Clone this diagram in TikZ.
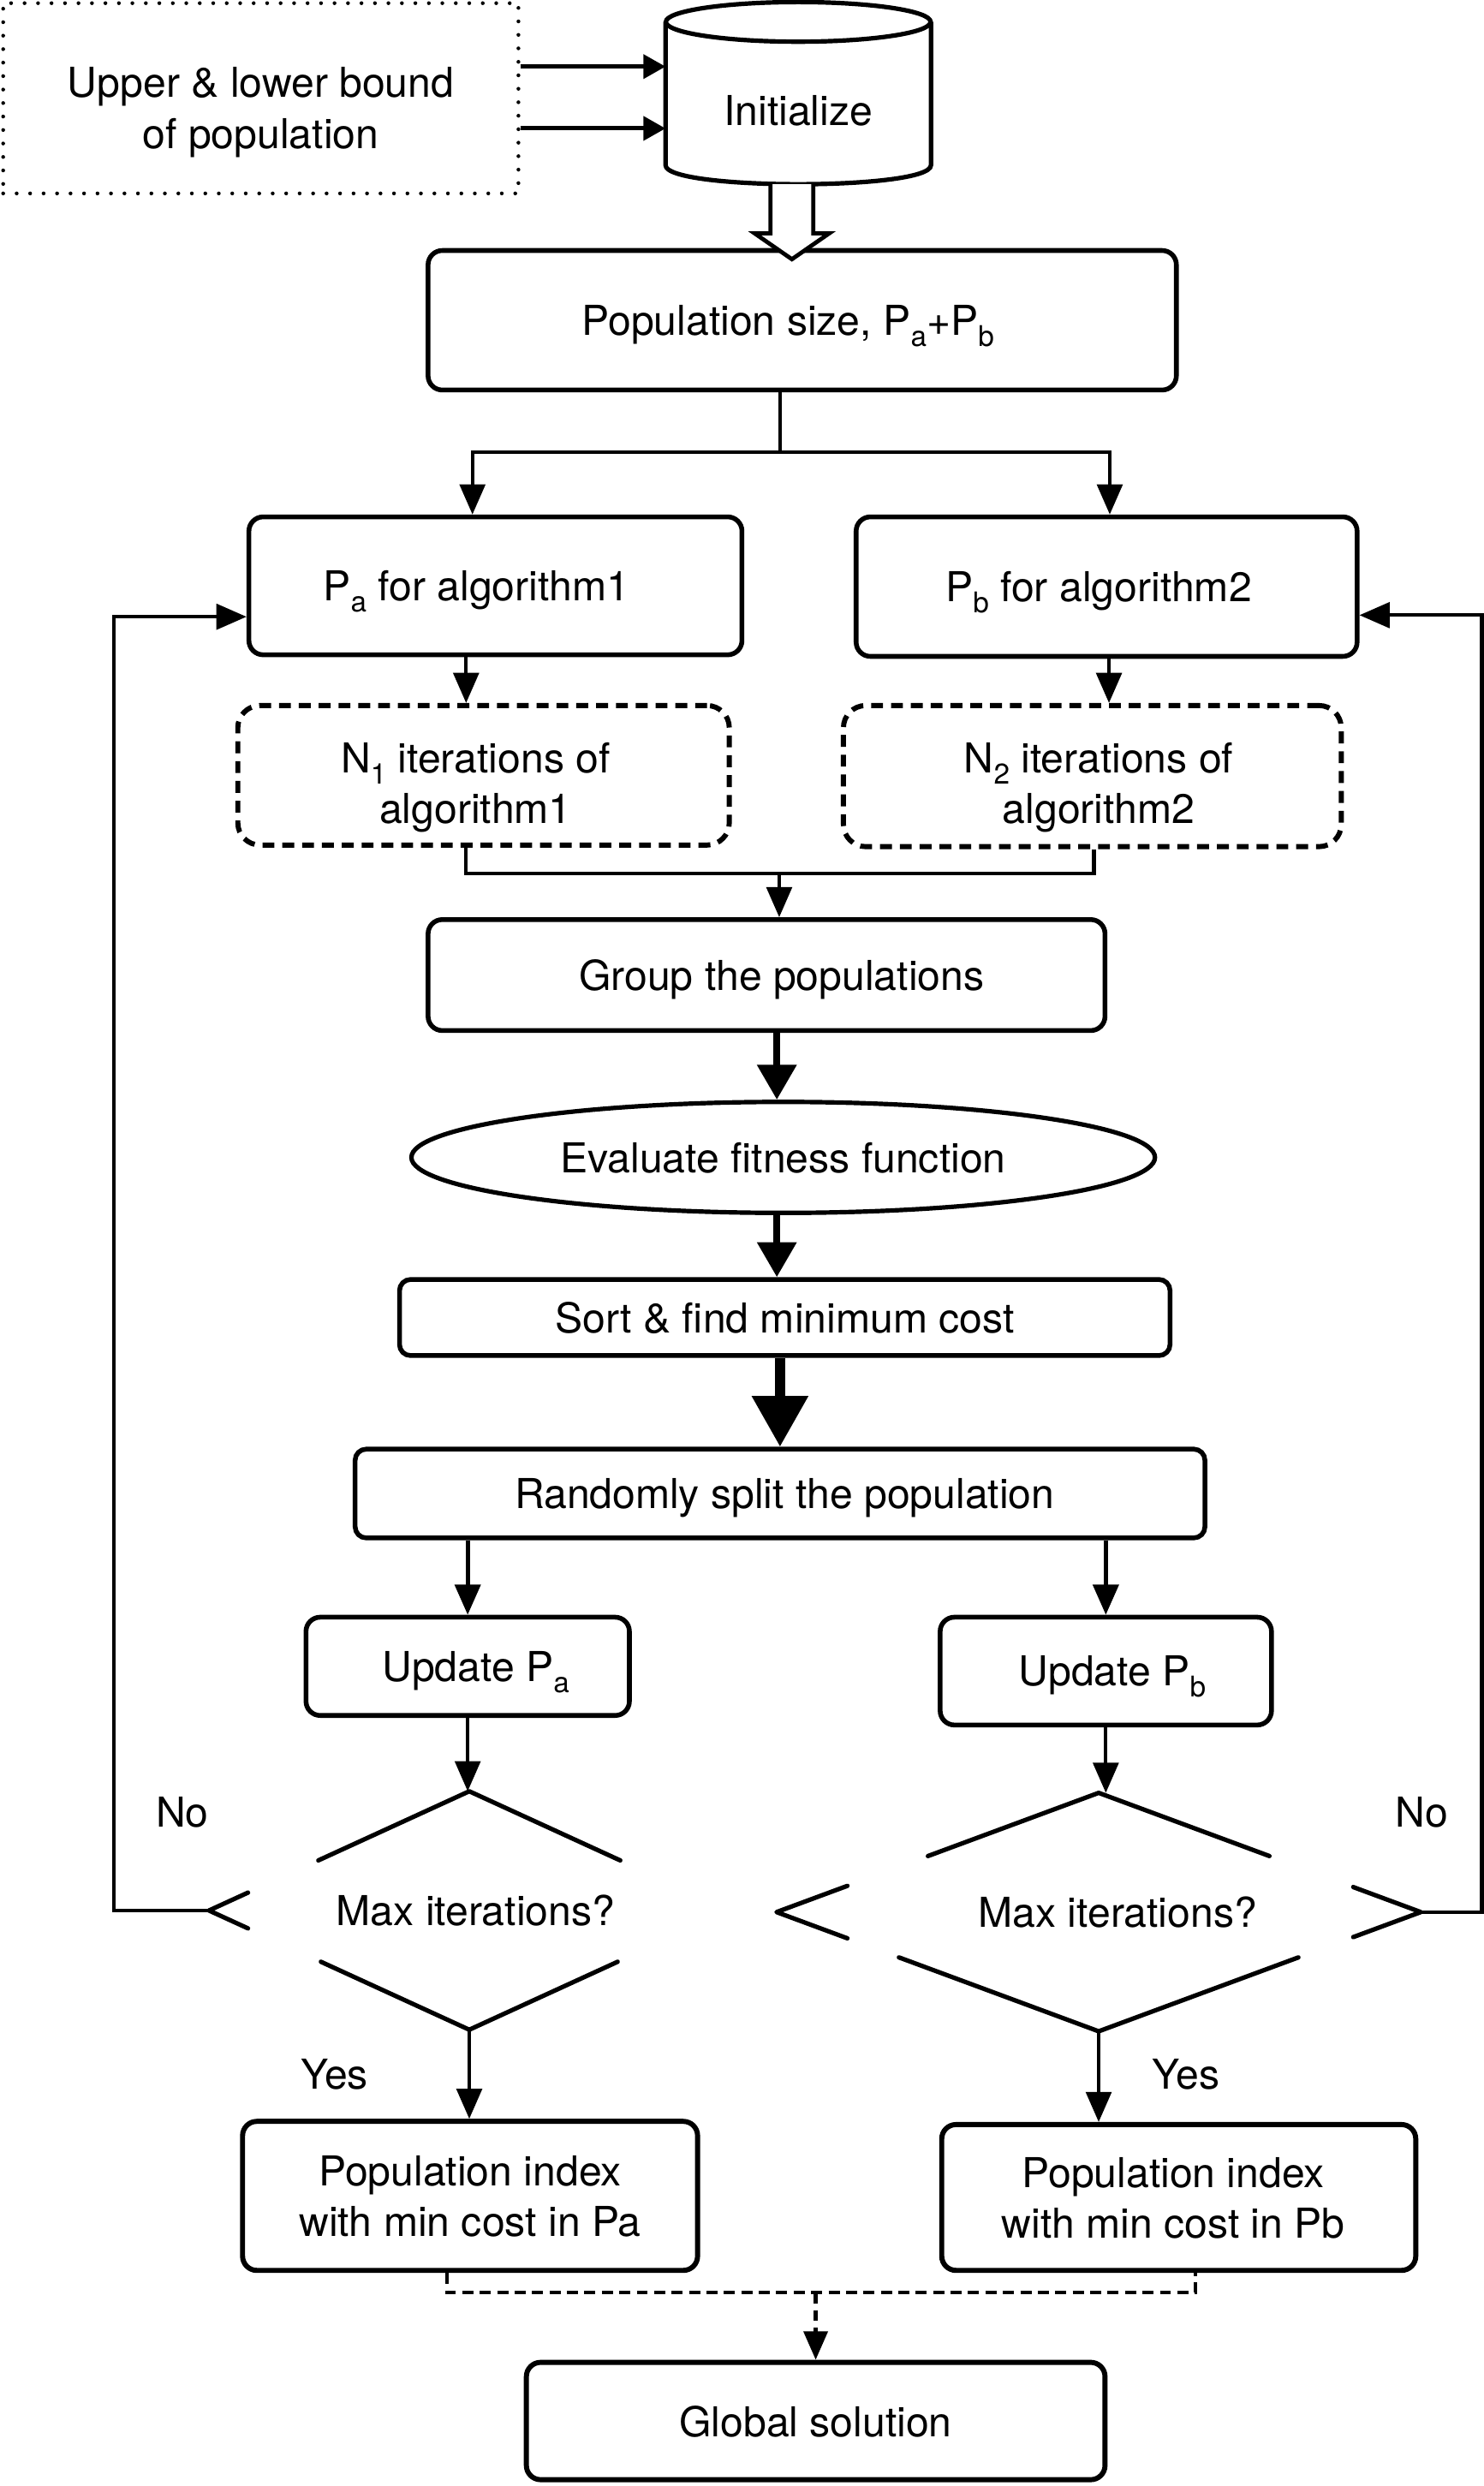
\documentclass[tikz,border=0pt]{standalone}
\usepackage{fontspec}
\setmainfont{TeX Gyre Heros}
\usetikzlibrary{arrows.meta,shapes.geometric,calc}
\newcommand{\subtx}[1]{\raisebox{-7pt}{\fontsize{18}{18}\selectfont #1}}
\begin{document}
\begin{tikzpicture}[x=1pt,y=-1pt,
  every node/.style={font=\fontsize{26}{32}\selectfont, inner sep=0pt, align=center, text depth=0pt},
  box/.style={draw, line width=3pt, rounded corners=9pt},
  dbox/.style={draw, line width=3.2pt, dash pattern=on 7.5pt off 5pt, rounded corners=14pt},
  ln/.style={line width=2.2pt},
  arr/.style={line width=2.2pt, -{Triangle[length=19pt,width=16pt]}},
  arrin/.style={line width=2.7pt, -{Triangle[length=14pt,width=15pt]}},
  medarr/.style={line width=4.5pt, -{Triangle[length=22pt,width=24pt]}},
  bigarr/.style={line width=6.5pt, -{Triangle[length=32pt,width=34pt]}},
  dia/.style={line width=2.8pt, line cap=round, line join=round},
  dline/.style={line width=2.5pt, dash pattern=on 7pt off 4pt}
]
\useasboundingbox (0,0) rectangle (936,1568);

% input box
\node[draw, line width=2.4pt, dash pattern=on 0pt off 8.5pt, line cap=round,
      minimum width=325pt, minimum height=120pt,
      label={[yshift=-6pt]center:{Upper \& lower bound\\of population}}] (bound) at (164.5,62) {};

% cylinder
\node[minimum width=167pt, minimum height=90pt, text height=40.7pt, text depth=0pt] (init) at (503.5,59) {Initialize};
\draw[line width=2.8pt] (init.north west) -- (init.south west)
   .. controls ($(init.south west)+(0,16)$) and ($(init.south east)+(0,16)$) .. (init.south east)
   -- (init.north east);
\draw[line width=2.8pt] (init.north) ellipse [x radius=83.5pt, y radius=12.5pt];

\coordinate (c42) at (0,42);
\coordinate (c81) at (0,81);
\draw[arrin] (bound.east |- c42) -- (init.west |- c42);
\draw[arrin] (bound.east |- c81) -- (init.west |- c81);

% main boxes
\node[box, minimum width=472pt, minimum height=88pt] (pop) at (506,202) {Population size, P\subtx{a}+P\subtx{b}\hspace*{18pt}};
\node[box, minimum width=311pt, minimum height=87pt] (pa) at (312.5,369.5) {P\subtx{a} for algorithm1\hspace*{24pt}};
\node[box, minimum width=316pt, minimum height=88pt] (pb) at (698,370) {P\subtx{b} for algorithm2\hspace*{10pt}};
\node[dbox, minimum width=310pt, minimum height=88pt,
      label={[yshift=-5pt, xshift=-5pt]center:{N\subtx{1} iterations of\\algorithm1}}] (n1) at (305,489) {};
\node[dbox, minimum width=314pt, minimum height=89pt,
      label={[yshift=-4.5pt, xshift=4pt]center:{N\subtx{2} iterations of\\algorithm2}}] (n2) at (689,489.5) {};
\node[box, minimum width=427pt, minimum height=70pt] (group) at (483.5,615) {\hspace*{19pt}Group the populations};
\node[ellipse, draw, line width=2.8pt, minimum width=469pt, minimum height=70pt] (eval) at (494,730) {Evaluate fitness function};
\node[box, rounded corners=7pt, minimum width=486pt, minimum height=48pt] (sort) at (495,831) {Sort \& find minimum cost};
\node[box, rounded corners=7pt, minimum width=536pt, minimum height=56pt] (split) at (492,942) {\hspace*{6pt}Randomly split the population};
\node[box, minimum width=204pt, minimum height=62pt] (upa) at (295,1051) {\hspace*{10pt}Update P\subtx{a}};
\node[box, minimum width=209pt, minimum height=68pt] (upb) at (697.5,1054) {\hspace*{8pt}Update P\subtx{b}};

% decision nodes (broken diamonds)
\node[minimum width=328pt, minimum height=150pt] (d1) at (296,1205) {\hspace*{8pt}Max iterations?};
\node[minimum width=406pt, minimum height=150pt] (d2) at (693,1206) {\hspace*{24pt}Max iterations?};
\draw[dia] ($(d1.north)!0.58!(d1.west)$) -- (d1.north) -- ($(d1.north)!0.58!(d1.east)$);
\draw[dia] ($(d1.west)!0.15!(d1.north)$) -- (d1.west) -- ($(d1.west)!0.15!(d1.south)$);
\draw[dia] ($(d1.south)!0.57!(d1.west)$) -- (d1.south) -- ($(d1.south)!0.57!(d1.east)$);
\draw[dia] ($(d2.north)!0.53!(d2.west)$) -- (d2.north) -- ($(d2.north)!0.53!(d2.east)$);
\draw[dia] ($(d2.west)!0.22!(d2.north)$) -- (d2.west) -- ($(d2.west)!0.22!(d2.south)$);
\draw[dia] ($(d2.east)!0.21!(d2.north)$) -- (d2.east) -- ($(d2.east)!0.21!(d2.south)$);
\draw[dia] ($(d2.south)!0.62!(d2.west)$) -- (d2.south) -- ($(d2.south)!0.62!(d2.east)$);

\node[box, line width=3.2pt, minimum width=287pt, minimum height=94pt] (idxa) at (296.5,1385) {Population index\\with min cost in Pa};
\node[box, line width=3.2pt, minimum width=299pt, minimum height=92pt] (idxb) at (743.5,1386) {Population index\hspace*{7pt}\\with min cost in Pb\hspace*{7pt}};
\node[box, line width=3.2pt, minimum width=365pt, minimum height=74pt] (glob) at (514.5,1527) {Global solution};

\node (no1) at (115,1143) {No};
\node (no2) at (897,1143) {No};
\node (yes1) at (211,1308) {Yes};
\node (yes2) at (748,1308) {Yes};

% hollow arrow from Initialize
\draw[line width=2.6pt, fill=white, line join=miter]
  ($(init.south)+(-17.5,12)$) -- ++(0,31) -- ++(-10,0) -- ($(pop.north)+(-6.5,7)$)
  -- ($(init.south)+(19.5,43)$) -- ++(-10,0) -- ++(0,-31);

% connectors
\coordinate (j1) at (492,285);
\draw[ln] (pop.south -| j1) -- (j1);
\draw[arr] (j1) -| ([xshift=-14.5pt]pa.north);
\draw[arr] (j1) -| ([xshift=2pt]pb.north);
\draw[arr] ([xshift=-18.5pt]pa.south) -- ([xshift=-18.5pt]pa.south |- n1.north);
\draw[arr] ([xshift=1.5pt]pb.south) -- ([xshift=1.5pt]pb.south |- n2.north);
\coordinate (j2) at (491.5,551);
\draw[ln] ([xshift=-11pt]n1.south) |- (j2) -| ([xshift=1pt]n2.south);
\draw[arr] (j2) -- (j2 |- group.north);
\draw[medarr] ([xshift=6.5pt]group.south) -- ([xshift=6.5pt]group.south |- eval.north);
\draw[medarr] ([xshift=-4pt]eval.south) -- ([xshift=-4pt]eval.south |- sort.north);
\draw[bigarr] ([xshift=-3pt]sort.south) -- ([xshift=-3pt]sort.south |- split.north);
\draw[arr, line width=2.6pt] (upa.north |- split.south) -- (upa.north);
\draw[arr, line width=2.6pt] (upb.north |- split.south) -- (upb.north);
\draw[arr] (upa.south) -- (upa.south |- d1.north);
\draw[arr] (upb.south) -- (upb.south |- d2.north);
\draw[arr] (d1.south) -- (d1.south |- idxa.north);
\draw[arr] (d2.south) -- (d2.south |- idxb.north);
\draw[arr] (d1.west) -- ++(-60,0) |- ([yshift=-19.5pt]pa.west);
\draw[arr] (d2.east) -- ++(38.5,0) |- ([yshift=-18pt]pb.east);
\coordinate (j3) at (514.5,1446);
\draw[dline] ([xshift=-14.5pt]idxa.south) |- (j3) -| ([xshift=10.5pt]idxb.south);
\draw[dline, -{Triangle[length=18pt,width=15pt]}] (j3) -- (glob.north);
\end{tikzpicture}
\end{document}
